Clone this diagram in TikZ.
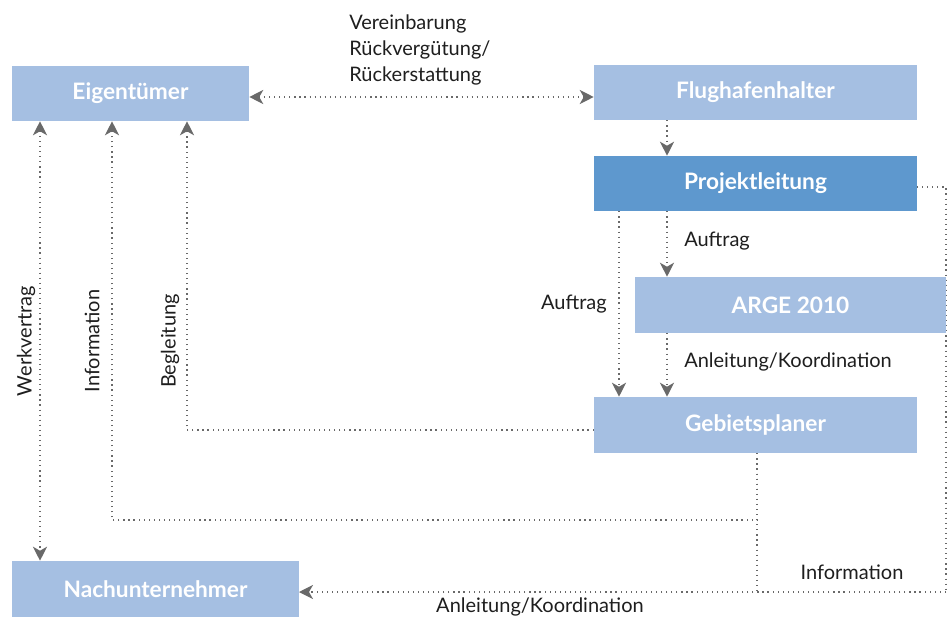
\documentclass[tikz,border=0pt]{standalone}
\usepackage{fontspec}
\setmainfont{Lato}
\usepackage{tikz}
\usetikzlibrary{arrows.meta,positioning,calc}
\definecolor{boxlight}{RGB}{165,191,226}
\definecolor{boxdark}{RGB}{94,152,206}
\definecolor{linkgray}{RGB}{105,105,105}
\definecolor{labeltext}{RGB}{30,30,30}

\begin{document}
\begin{tikzpicture}[x=0.75pt, y=-0.75pt,
    box/.style={fill=boxlight, text=white, font=\fontsize{17}{19}\selectfont\bfseries, inner sep=0pt},
    link/.style={linkgray, line width=0.9pt, dash pattern=on 0.9pt off 2.9pt,
        arrows={-Stealth[length=10.5pt, width=10.5pt, inset=3pt]}},
    both/.style={link, arrows={Stealth[length=10.5pt, width=10.5pt, inset=3pt]-Stealth[length=10.5pt, width=10.5pt, inset=3pt]}},
    plain/.style={link, arrows={-}},
    lbl/.style={text=labeltext, font=\fontsize{15}{19.5}\selectfont, inner sep=0pt}]
\useasboundingbox (0,0) rectangle (947,617);

% lines first, boxes on top
\draw[plain] (917,187) -- (946,187) -- (946,592);
\draw[link] (946,592) coordinate (infoend) -- (299,592);

\node[box, minimum width=177.75pt, minimum height=41.25pt] (eig) at (130.5,93.5) {Eigentümer};
\node[box, minimum width=242.25pt, minimum height=41.25pt] (flug) at (755.5,92.5) {Flughafenhalter};
\node[box, fill=boxdark, minimum width=242.25pt, minimum height=41.25pt] (proj) at (755.5,183.5) {Projektleitung};
\node[box, minimum width=233.25pt, minimum height=42pt] (arge) at (790.5,305) {ARGE 2010};
\node[box, minimum width=242.25pt, minimum height=42pt] (geb) at (755.5,425) {Gebietsplaner};
\node[box, minimum width=215.25pt, minimum height=42pt] (nach) at (155.5,589) {Nachunternehmer};

\coordinate (mid) at (667,0);
\coordinate (left) at (619,0);
\coordinate (down) at (757,0);

\draw[both] (eig.east |- 0,97) -- (flug.west |- 0,97);
\draw[link] (mid |- flug.south) -- (mid |- proj.north);
\draw[link] (mid |- proj.south) -- (mid |- arge.north);
\draw[link] (left |- proj.south) -- (left |- geb.north);
\draw[link] (mid |- arge.south) -- (mid |- geb.north);

\draw[plain] (down |- geb.south) -- (757,592);
\draw[link] (down |- geb.south) -- (757,520) -- (112,520) -- (112,0 |- eig.south);
\draw[link] (geb.west |- 0,430) -- (187,430) -- (187,0 |- eig.south);
\draw[both] (40,0 |- eig.south) -- (40,0 |- nach.north);

\node[lbl, anchor=west, align=left] (vereinb) at (349,50) {Vereinbarung\\Rückvergütung/\\Rückerstattung};
\node[lbl, anchor=west] (auftrag1) at (684,241) {Auftrag};
\node[lbl, anchor=east] (auftrag2) at (607,304) {Auftrag};
\node[lbl, anchor=west] (anleit1) at (684,362) {Anleitung/Koordination};
\node[lbl, rotate=90] (werk) at (26,341) {Werkvertrag};
\node[lbl, rotate=90] (info1) at (92,341) {Information};
\node[lbl, rotate=90] (begl) at (170,341) {Begleitung};
\node[lbl] (info2) at (852,572) {Information};
\node[lbl] (anleit2) at (540,607) {Anleitung/Koordination};
\end{tikzpicture}
\end{document}
